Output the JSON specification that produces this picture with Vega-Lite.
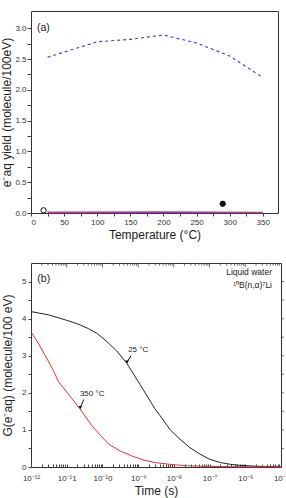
{
  "$schema": "https://vega.github.io/schema/vega-lite/v6.json",
  "padding": {"left": 0, "top": 10, "right": 4, "bottom": 2},
  "spacing": 21,
  "resolve": {"scale": {"color": "independent", "fill": "independent"}},
  "config": {
    "font": "Liberation Sans",
    "view": {"stroke": "#333", "strokeWidth": 1},
    "axis": {"grid": false, "domain": false, "labelFont": "Liberation Sans", "titleFont": "Liberation Sans", "labelFontSize": 8, "titleFontSize": 12, "titleFontWeight": "normal", "labelColor": "#333", "titleColor": "#222", "tickColor": "#444", "labelOverlap": false}
  },
  "datasets": {
    "dash": [
      {"T": 25, "y": 2.53}, {"T": 100, "y": 2.78}, {"T": 150, "y": 2.82}, {"T": 200, "y": 2.89}, {"T": 250, "y": 2.76}, {"T": 300, "y": 2.55}, {"T": 350, "y": 2.2}
    ],
    "low": [
      {"T": 25, "y": 0.004, "s": "blue"}, {"T": 200, "y": 0.006, "s": "blue"}, {"T": 350, "y": 0.004, "s": "blue"},
      {"T": 25, "y": 0.012, "s": "red"}, {"T": 200, "y": 0.018, "s": "red"}, {"T": 350, "y": 0.01, "s": "red"}
    ],
    "pts": [
      {"T": 19, "y": 0.044, "k": "open"}, {"T": 289.5, "y": 0.15, "k": "filled"}
    ],
    "curves": [
      {"t": 1e-12, "g": 4.19, "c": "25"}, {"t": 3.16e-12, "g": 4.1, "c": "25"}, {"t": 8.91e-12, "g": 3.97, "c": "25"}, {"t": 2.0e-11, "g": 3.86, "c": "25"}, {"t": 4.07e-11, "g": 3.73, "c": "25"}, {"t": 7.08e-11, "g": 3.6, "c": "25"}, {"t": 1.17e-10, "g": 3.43, "c": "25"}, {"t": 2.51e-10, "g": 3.13, "c": "25"}, {"t": 4.79e-10, "g": 2.8, "c": "25"}, {"t": 1.12e-9, "g": 2.23, "c": "25"}, {"t": 2.95e-9, "g": 1.57, "c": "25"}, {"t": 4.07e-9, "g": 1.39, "c": "25"}, {"t": 7.94e-9, "g": 1.0, "c": "25"}, {"t": 1.48e-8, "g": 0.75, "c": "25"}, {"t": 2.82e-8, "g": 0.52, "c": "25"}, {"t": 5.37e-8, "g": 0.35, "c": "25"}, {"t": 1e-7, "g": 0.21, "c": "25"}, {"t": 2e-7, "g": 0.12, "c": "25"}, {"t": 3.98e-7, "g": 0.07, "c": "25"}, {"t": 7.08e-7, "g": 0.045, "c": "25"}, {"t": 3.16e-6, "g": 0.012, "c": "25"}, {"t": 1e-5, "g": 0.005, "c": "25"},
      {"t": 1e-12, "g": 3.64, "c": "350"}, {"t": 1.58e-12, "g": 3.35, "c": "350"}, {"t": 2.45e-12, "g": 3.02, "c": "350"}, {"t": 3.98e-12, "g": 2.65, "c": "350"}, {"t": 5.89e-12, "g": 2.3, "c": "350"}, {"t": 1.26e-11, "g": 1.9, "c": "350"}, {"t": 2.34e-11, "g": 1.57, "c": "350"}, {"t": 5.01e-11, "g": 1.12, "c": "350"}, {"t": 8.91e-11, "g": 0.85, "c": "350"}, {"t": 1.48e-10, "g": 0.62, "c": "350"}, {"t": 3.16e-10, "g": 0.43, "c": "350"}, {"t": 6.61e-10, "g": 0.3, "c": "350"}, {"t": 1.41e-9, "g": 0.19, "c": "350"}, {"t": 2.95e-9, "g": 0.12, "c": "350"}, {"t": 1e-8, "g": 0.06, "c": "350"}, {"t": 2.82e-8, "g": 0.03, "c": "350"}, {"t": 1e-7, "g": 0.015, "c": "350"}, {"t": 1e-6, "g": 0.005, "c": "350"}, {"t": 1e-5, "g": 0.002, "c": "350"}
    ],
    "notesL": [
      {"t": 5.25e-10, "g": 3.16, "txt": "25 °C"},
      {"t": 2.34e-11, "g": 1.98, "txt": "350 °C"}
    ],
    "notesR": [
      {"t": 5.6e-6, "g": 5.25, "txt": "Liquid water"},
      {"t": 5.6e-6, "g": 4.9, "txt": "¹⁰B(n,α)⁷Li"}
    ],
    "arrows": [
      {"t": 6.3e-10, "g": 3.0, "t2": 4.9e-10, "g2": 2.83},
      {"t": 3.0e-11, "g": 1.82, "t2": 2.4e-11, "g2": 1.6}
    ],
    "heads": [
      {"t": 4.9e-10, "g": 2.83}, {"t": 2.4e-11, "g": 1.6}
    ],
    "topTicks": [
      {"t": 2e-12, "g": 5.5, "g2": 5.43}, {"t": 3e-12, "g": 5.5, "g2": 5.43}, {"t": 4e-12, "g": 5.5, "g2": 5.43}, {"t": 5e-12, "g": 5.5, "g2": 5.43}, {"t": 6e-12, "g": 5.5, "g2": 5.43}, {"t": 7e-12, "g": 5.5, "g2": 5.43}, {"t": 8e-12, "g": 5.5, "g2": 5.43}, {"t": 9e-12, "g": 5.5, "g2": 5.43}, {"t": 1e-11, "g": 5.5, "g2": 5.38},
      {"t": 2e-11, "g": 5.5, "g2": 5.43}, {"t": 3e-11, "g": 5.5, "g2": 5.43}, {"t": 4e-11, "g": 5.5, "g2": 5.43}, {"t": 5e-11, "g": 5.5, "g2": 5.43}, {"t": 6e-11, "g": 5.5, "g2": 5.43}, {"t": 7e-11, "g": 5.5, "g2": 5.43}, {"t": 8e-11, "g": 5.5, "g2": 5.43}, {"t": 9e-11, "g": 5.5, "g2": 5.43}, {"t": 1e-10, "g": 5.5, "g2": 5.38},
      {"t": 2e-10, "g": 5.5, "g2": 5.43}, {"t": 3e-10, "g": 5.5, "g2": 5.43}, {"t": 4e-10, "g": 5.5, "g2": 5.43}, {"t": 5e-10, "g": 5.5, "g2": 5.43}, {"t": 6e-10, "g": 5.5, "g2": 5.43}, {"t": 7e-10, "g": 5.5, "g2": 5.43}, {"t": 8e-10, "g": 5.5, "g2": 5.43}, {"t": 9e-10, "g": 5.5, "g2": 5.43}, {"t": 1e-9, "g": 5.5, "g2": 5.38},
      {"t": 2e-9, "g": 5.5, "g2": 5.43}, {"t": 3e-9, "g": 5.5, "g2": 5.43}, {"t": 4e-9, "g": 5.5, "g2": 5.43}, {"t": 5e-9, "g": 5.5, "g2": 5.43}, {"t": 6e-9, "g": 5.5, "g2": 5.43}, {"t": 7e-9, "g": 5.5, "g2": 5.43}, {"t": 8e-9, "g": 5.5, "g2": 5.43}, {"t": 9e-9, "g": 5.5, "g2": 5.43}, {"t": 1e-8, "g": 5.5, "g2": 5.38},
      {"t": 2e-8, "g": 5.5, "g2": 5.43}, {"t": 3e-8, "g": 5.5, "g2": 5.43}, {"t": 4e-8, "g": 5.5, "g2": 5.43}, {"t": 5e-8, "g": 5.5, "g2": 5.43}, {"t": 6e-8, "g": 5.5, "g2": 5.43}, {"t": 7e-8, "g": 5.5, "g2": 5.43}, {"t": 8e-8, "g": 5.5, "g2": 5.43}, {"t": 9e-8, "g": 5.5, "g2": 5.43}, {"t": 1e-7, "g": 5.5, "g2": 5.38},
      {"t": 2e-7, "g": 5.5, "g2": 5.43}, {"t": 3e-7, "g": 5.5, "g2": 5.43}, {"t": 4e-7, "g": 5.5, "g2": 5.43}, {"t": 5e-7, "g": 5.5, "g2": 5.43}, {"t": 6e-7, "g": 5.5, "g2": 5.43}, {"t": 7e-7, "g": 5.5, "g2": 5.43}, {"t": 8e-7, "g": 5.5, "g2": 5.43}, {"t": 9e-7, "g": 5.5, "g2": 5.43}, {"t": 1e-6, "g": 5.5, "g2": 5.38},
      {"t": 2e-6, "g": 5.5, "g2": 5.43}, {"t": 3e-6, "g": 5.5, "g2": 5.43}, {"t": 4e-6, "g": 5.5, "g2": 5.43}, {"t": 5e-6, "g": 5.5, "g2": 5.43}, {"t": 6e-6, "g": 5.5, "g2": 5.43}, {"t": 7e-6, "g": 5.5, "g2": 5.43}, {"t": 8e-6, "g": 5.5, "g2": 5.43}, {"t": 9e-6, "g": 5.5, "g2": 5.43}
    ],
    "rightTicks": [
      {"t": 1e-5, "t2": 1.2e-5, "g": 0.5}, {"t": 1e-5, "t2": 1.2e-5, "g": 1}, {"t": 1e-5, "t2": 1.2e-5, "g": 1.5}, {"t": 1e-5, "t2": 1.2e-5, "g": 2}, {"t": 1e-5, "t2": 1.2e-5, "g": 2.5}, {"t": 1e-5, "t2": 1.2e-5, "g": 3}, {"t": 1e-5, "t2": 1.2e-5, "g": 3.5}, {"t": 1e-5, "t2": 1.2e-5, "g": 4}, {"t": 1e-5, "t2": 1.2e-5, "g": 4.5}, {"t": 1e-5, "t2": 1.2e-5, "g": 5}
    ]
  },
  "vconcat": [
    {
      "width": 247,
      "height": 202,
      "encoding": {
        "x": {"field": "T", "type": "quantitative", "scale": {"domain": [0, 373], "nice": false}, "axis": {"values": [0, 25, 50, 75, 100, 125, 150, 175, 200, 225, 250, 275, 300, 325, 350], "labelExpr": "datum.value % 50 == 0 ? format(datum.value, 'd') : ''", "title": "Temperature (°C)", "tickSize": 3, "labelPadding": 2, "titlePadding": 3}},
        "y": {"field": "y", "type": "quantitative", "scale": {"domain": [0, 3.28], "nice": false}, "axis": {"values": [0, 0.25, 0.5, 0.75, 1, 1.25, 1.5, 1.75, 2, 2.25, 2.5, 2.75, 3], "labelExpr": "(datum.value * 2) % 1 == 0 ? format(datum.value, '.1f') : ''", "title": "e⁻aq yield (molecule/100eV)", "tickSize": 4, "labelPadding": 1, "titlePadding": 1}}
      },
      "layer": [
        {
          "data": {"name": "dash"},
          "mark": {"type": "line", "color": "#3a3ad0", "strokeDash": [3, 3], "strokeWidth": 1.1}
        },
        {
          "data": {"name": "low"},
          "mark": {"type": "line", "strokeWidth": 1.4},
          "encoding": {
            "detail": {"field": "s"},
            "color": {"field": "s", "type": "nominal", "scale": {"domain": ["red", "blue"], "range": ["#e8336e", "#4040d8"]}, "legend": null}
          }
        },
        {
          "data": {"name": "pts"},
          "mark": {"type": "point", "size": 28, "strokeWidth": 1, "color": "#111", "opacity": 1},
          "encoding": {
            "fill": {"field": "k", "type": "nominal", "scale": {"domain": ["open", "filled"], "range": ["#fff", "#111"]}, "legend": null}
          }
        },
        {
          "data": {"values": [{"T": 9, "y": 3.0, "txt": "(a)"}]},
          "mark": {"type": "text", "align": "left", "fontSize": 10.5, "color": "#222"},
          "encoding": {
            "text": {"field": "txt"}
          }
        }
      ]
    },
    {
      "width": 250,
      "height": 204,
      "encoding": {
        "x": {"field": "t", "type": "quantitative", "scale": {"type": "log", "domain": [1e-12, 1e-5], "nice": false}, "axis": {"values": [1e-12, 2e-12, 3e-12, 4e-12, 5e-12, 6e-12, 7e-12, 8e-12, 9e-12, 1e-11, 2e-11, 3e-11, 4e-11, 5e-11, 6e-11, 7e-11, 8e-11, 9e-11, 1e-10, 2e-10, 3e-10, 4e-10, 5e-10, 6e-10, 7e-10, 8e-10, 9e-10, 1e-9, 2e-9, 3e-9, 4e-9, 5e-9, 6e-9, 7e-9, 8e-9, 9e-9, 1e-8, 2e-8, 3e-8, 4e-8, 5e-8, 6e-8, 7e-8, 8e-8, 9e-8, 1e-7, 2e-7, 3e-7, 4e-7, 5e-7, 6e-7, 7e-7, 8e-7, 9e-7, 1e-6, 2e-6, 3e-6, 4e-6, 5e-6, 6e-6, 7e-6, 8e-6, 9e-6, 1e-5], "labelExpr": "abs(log(datum.value)/LN10 - round(log(datum.value)/LN10)) > 0.001 ? '' : '10' + replace(replace(replace(replace(replace(replace(replace(replace(replace(format(round(log(datum.value)/LN10), 'd'), '-', '⁻'), '−', '⁻'), '1', '¹'), '2', '²'), '5', '⁵'), '6', '⁶'), '7', '⁷'), '8', '⁸'), '9', '⁹')", "title": "Time (s)", "tickSize": -3, "labelPadding": 10, "titlePadding": 3, "labelFlush": false}},
        "y": {"field": "g", "type": "quantitative", "scale": {"domain": [0, 5.5], "nice": false}, "axis": {"values": [0, 0.5, 1, 1.5, 2, 2.5, 3, 3.5, 4, 4.5, 5], "labelExpr": "datum.value % 1 == 0 ? format(datum.value, 'd') : ''", "title": "G(e⁻aq) (molecule/100 eV)", "tickSize": 3, "titlePadding": 7}}
      },
      "layer": [
        {
          "data": {"name": "curves"},
          "mark": {"type": "line", "strokeWidth": 1},
          "encoding": {
            "color": {"field": "c", "type": "nominal", "scale": {"domain": ["25", "350"], "range": ["#222222", "#e8303a"]}, "legend": null}
          }
        },
        {
          "data": {"name": "notesL"},
          "mark": {"type": "text", "fontSize": 8, "color": "#222", "align": "left"},
          "encoding": {"text": {"field": "txt"}}
        },
        {
          "data": {"name": "notesR"},
          "mark": {"type": "text", "fontSize": 8.5, "color": "#222", "align": "right"},
          "encoding": {"text": {"field": "txt"}}
        },
        {
          "data": {"values": [{"t": 1.5e-12, "g": 5.08, "txt": "(b)"}]},
          "mark": {"type": "text", "fontSize": 10.5, "color": "#222", "align": "left"},
          "encoding": {"text": {"field": "txt"}}
        },
        {
          "data": {"name": "arrows"},
          "mark": {"type": "rule", "color": "#111", "strokeWidth": 1},
          "encoding": {
            "x2": {"field": "t2"},
            "y2": {"field": "g2"}
          }
        },
        {
          "data": {"name": "heads"},
          "mark": {"type": "point", "shape": "triangle-down", "filled": true, "size": 14, "color": "#111", "opacity": 1}
        },
        {
          "data": {"name": "topTicks"},
          "mark": {"type": "rule", "color": "#444", "strokeWidth": 0.8},
          "encoding": {"y2": {"field": "g2"}}
        },
        {
          "data": {"name": "rightTicks"},
          "mark": {"type": "rule", "color": "#444", "strokeWidth": 0.8},
          "encoding": {"x2": {"field": "t2"}}
        }
      ]
    }
  ]
}
